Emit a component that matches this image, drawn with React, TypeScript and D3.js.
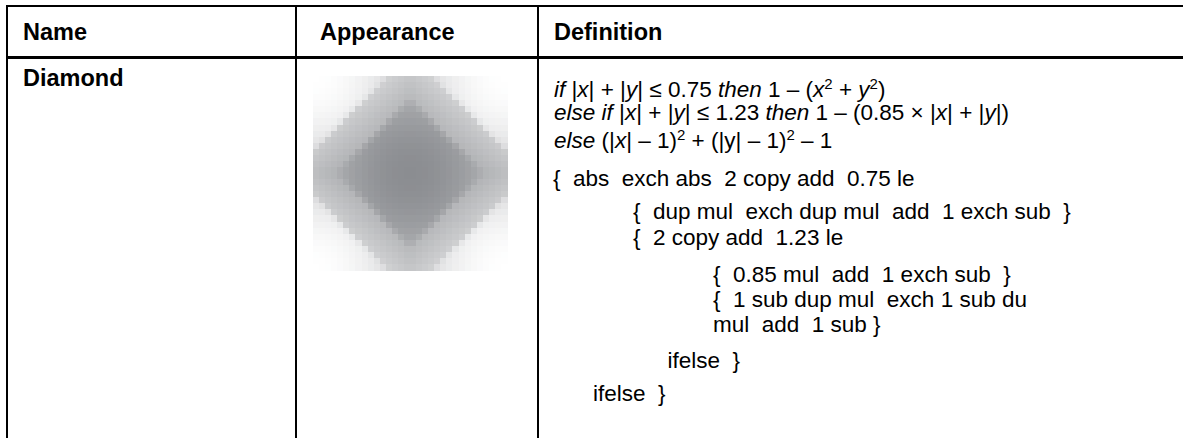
import React from 'react';
import * as d3 from 'd3';

// table content
const headers = ['Name', 'Appearance', 'Definition'];
const spotName = 'Diamond';

// spot function constants, as printed in the Definition column
const innerLimit = 0.75;
const outerLimit = 1.23;
const xWeight = 0.85;

// sampling grid of the Appearance swatch
const gridSize = 32;

type Run = { t: string; i?: boolean; sup?: boolean };

const formulaLines: Run[][] = [
  [
    { t: 'if', i: true }, { t: ' |' }, { t: 'x', i: true }, { t: '| + |' }, { t: 'y', i: true },
    { t: '| ≤ 0.75 ' }, { t: 'then', i: true }, { t: ' 1 – (' }, { t: 'x', i: true }, { t: '2', sup: true },
    { t: ' + ' }, { t: 'y', i: true }, { t: '2', sup: true }, { t: ')' },
  ],
  [
    { t: 'else if', i: true }, { t: ' |' }, { t: 'x', i: true }, { t: '| + |' }, { t: 'y', i: true },
    { t: '| ≤ 1.23 ' }, { t: 'then', i: true }, { t: ' 1 – (0.85 × |' }, { t: 'x', i: true },
    { t: '| + |' }, { t: 'y', i: true }, { t: '|)' },
  ],
  [
    { t: 'else', i: true }, { t: ' (|' }, { t: 'x', i: true }, { t: '| – 1)' }, { t: '2', sup: true },
    { t: ' + (|y| – 1)' }, { t: '2', sup: true }, { t: ' – 1' },
  ],
];

const codeLines = [
  '{  abs  exch abs  2 copy add  0.75 le',
  '{  dup mul  exch dup mul  add  1 exch sub  }',
  '{  2 copy add  1.23 le',
  '{  0.85 mul  add  1 exch sub  }',
  '{  1 sub dup mul  exch 1 sub du',
  'mul  add  1 sub }',
  'ifelse  }',
  'ifelse  }',
];
const codeIndent = [0, 1, 1, 2, 2, 2, 1.43, 0.5];

const W = 1183;
const H = 438;
const FONT = 'Liberation Sans, Arial, Helvetica, sans-serif';
const HEAD_SIZE = 23.5;
const BODY_SIZE = 22.5;

const colX = [7, 296, 538];
const topY = 6;
const headY = 57;

const formulaY = [97, 120, 148];
const codeY = [186, 219, 245, 282, 307, 332, 368, 401];

const spot = (x: number, y: number) => {
  const ax = Math.abs(x);
  const ay = Math.abs(y);
  if (ax + ay <= innerLimit) return 1 - (x * x + y * y);
  if (ax + ay <= outerLimit) return 1 - (xWeight * ax + ay);
  return (ax - 1) ** 2 + (ay - 1) ** 2 - 1;
};

const Txt = ({ x, y, size, bold, children }: any) => (
  <text
    x={x}
    y={y}
    fontFamily={FONT}
    fontSize={size}
    fontWeight={bold ? 'bold' : 'normal'}
    fill="#000"
    style={{ whiteSpace: 'pre' }}
  >
    {children}
  </text>
);

export default function App() {
  const sw = { x: 313, y: 76, size: 194 };
  const idx = d3.range(gridSize);
  const cell = d3.scaleBand<number>().domain(idx).range([0, sw.size]);
  const coord = (i: number) => -1 + ((i + 0.5) * 2) / gridSize;
  const shade = d3.scaleLinear<string>().domain([-1, 1]).range(['#ffffff', '#8b8d91']);

  // each cell is the mean of a few samples of the spot function inside it
  const sub = d3.range(4).map((k) => ((k + 0.5) / 4 - 0.5) * (2 / gridSize));
  const cellValue = (r: number, c: number) =>
    d3.mean(sub.flatMap((dy) => sub.map((dx) => spot(coord(c) + dx, -coord(r) + dy)))) as number;

  const cells = idx.flatMap((r) => idx.map((c) => ({ r, c, v: cellValue(r, c) })));

  const codeX = d3.scaleLinear().domain([0, 1]).range([553, 633]);

  return (
    <svg width={W} height={H} style={{ position: 'absolute', left: 0, top: 0, background: '#fff' }}>
      <rect width={W} height={H} fill="#fff" />

      {/* header texts */}
      {headers.map((h, i) => (
        <Txt key={h} x={colX[i] + (i === 0 ? 16 : i === 1 ? 24 : 16)} y={40} size={HEAD_SIZE} bold>
          {h}
        </Txt>
      ))}

      <Txt x={23} y={86} size={HEAD_SIZE} bold>{spotName}</Txt>

      {/* appearance swatch */}
      <g transform={`translate(${sw.x},${sw.y})`} shapeRendering="crispEdges">
        {cells.map((d) => (
          <rect
            key={`${d.r}-${d.c}`}
            x={cell(d.c)}
            y={cell(d.r)}
            width={cell.bandwidth() + 0.5}
            height={cell.bandwidth() + 0.5}
            fill={shade(d.v)}
          />
        ))}
      </g>

      {/* definition */}
      {formulaLines.map((runs, li) => (
        <Txt key={li} x={554} y={formulaY[li]} size={BODY_SIZE}>
          {runs.map((r, k) => (
            <tspan
              key={k}
              fontStyle={r.i ? 'italic' : 'normal'}
              fontSize={r.sup ? 15 : undefined}
              dy={r.sup ? -8 : k > 0 && runs[k - 1].sup ? 8 : undefined}
            >
              {r.t}
            </tspan>
          ))}
        </Txt>
      ))}
      {codeLines.map((l, i) => (
        <Txt key={i} x={codeX(codeIndent[i])} y={codeY[i]} size={BODY_SIZE}>
          {l}
        </Txt>
      ))}

      {/* rules */}
      <g fill="#000" shapeRendering="crispEdges">
        <rect x={6} y={topY - 1} width={W - 6} height={2} />
        <rect x={6} y={headY - 1} width={W - 6} height={3} />
        {colX.map((x) => (
          <rect key={x} x={x - 1} y={topY - 1} width={2} height={H} />
        ))}
      </g>
    </svg>
  );
}
